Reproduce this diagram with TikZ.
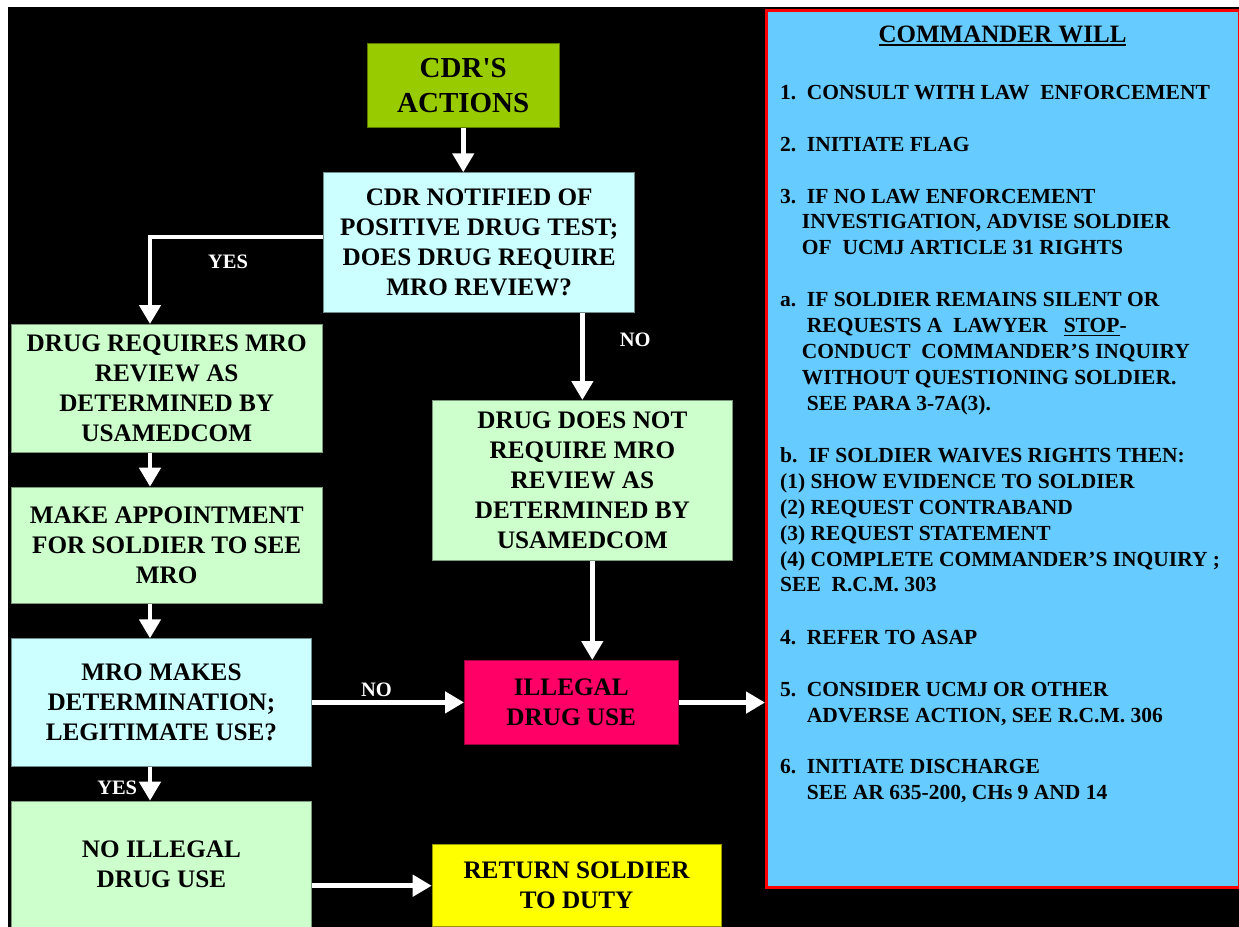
\documentclass[tikz,border=0pt]{standalone}
\usepackage{fontspec}
\setmainfont{Liberation Serif}
\usetikzlibrary{arrows.meta}
\definecolor{cact}{HTML}{99CC00}
\definecolor{ccyan}{HTML}{CCFFFF}
\definecolor{clgreen}{HTML}{CCFFCC}
\definecolor{cpink}{HTML}{FF0066}
\definecolor{cyel}{HTML}{FFFF00}
\definecolor{cpanel}{HTML}{66CCFF}
\definecolor{cred}{HTML}{FF0000}
\newcommand\myul[2][1.8pt]{\setbox0\hbox{#2}\rlap{\rule[-3.5pt]{\wd0}{#1}}\box0}
\tikzset{
  box/.style={rectangle, inner sep=0pt, anchor=north west, align=center,
    font=\fontsize{25.2}{30}\selectfont\bfseries, text=black, line width=0.8pt},
  cyanbox/.style={box, fill=ccyan, draw=ccyan!55!black},
  greenbox/.style={box, fill=clgreen, draw=clgreen!60!black},
  arr/.style={draw=white, line width=4.6pt, -{Triangle[width=21pt,length=19pt]}},
  lbl/.style={text=white, font=\fontsize{20.5}{24}\selectfont\bfseries, inner sep=0pt, anchor=base},
  ptxt/.style={anchor=base west, inner sep=0pt, text=black, font=\fontsize{21.5}{25.85}\selectfont\bfseries},
}
\begin{document}
\begin{tikzpicture}[x=1pt,y=-1pt]
\useasboundingbox (0,0) rectangle (1239,926);
\fill[white] (0,0) rectangle (1239,926);
\fill[black] (8,7) rectangle (1240,927);

% right panel
\node[rectangle, inner sep=0pt, anchor=north west, fill=cpanel, draw=cred, line width=3.4pt,
  minimum width=473pt, minimum height=877pt] (panel) at (765,9) {};

% flowchart boxes
\node[box, fill=cact, draw=cact!60!black, minimum width=192.3pt, minimum height=84.3pt,
  font=\fontsize{29}{35}\selectfont\bfseries] (actions) at (366.7,42.7) {CDR\textquotesingle S\\ACTIONS};
\node[cyanbox, minimum width=311pt, minimum height=139.4pt] (notified) at (323.3,172.3)
  {CDR NOTIFIED OF\\POSITIVE DRUG TEST;\\DOES DRUG REQUIRE\\MRO REVIEW?};
\node[greenbox, minimum width=310.7pt, minimum height=127.7pt] (req) at (11,324)
  {DRUG REQUIRES MRO\\REVIEW AS\\DETERMINED BY\\USAMEDCOM};
\node[greenbox, minimum width=310.7pt, minimum height=116.6pt] (appt) at (11,486.7)
  {MAKE APPOINTMENT\\FOR SOLDIER TO SEE\\MRO};
\node[cyanbox, minimum width=300pt, minimum height=127.4pt] (mro) at (11,638.3)
  {MRO MAKES\\DETERMINATION;\\LEGITIMATE USE?};
\node[greenbox, minimum width=300pt, minimum height=126pt] (noill) at (11,800.7)
  {NO ILLEGAL\\DRUG USE};
\node[greenbox, minimum width=300pt, minimum height=160pt] (notreq) at (432,400)
  {DRUG DOES NOT\\REQUIRE MRO\\REVIEW AS\\DETERMINED BY\\USAMEDCOM};
\node[box, fill=cpink, draw=cpink!60!black, minimum width=213.7pt, minimum height=84.3pt] (ill) at (464,660)
  {ILLEGAL\\DRUG USE};
\node[box, fill=cyel, draw=cyel!60!black, minimum width=289pt, minimum height=82pt] (ret) at (431.7,844.3)
  {RETURN SOLDIER\\TO DUTY};

% column coordinates
\coordinate (colL) at (150,0);
\coordinate (colM) at (592.3,0);

% connectors
\draw[arr] (actions.south) -- (actions.south |- notified.north);
\draw[arr] ([yshift=5.3pt]notified.west) -| (colL |- req.north);
\draw[arr] (notreq.north |- notified.south) -- (notreq.north);
\draw[arr] (colL |- req.south) -- (colL |- appt.north);
\draw[arr] (colL |- appt.south) -- (colL |- mro.north);
\draw[arr] (colL |- mro.south) -- (colL |- noill.north);
\draw[arr] (mro.east) -- (mro.east -| ill.west);
\draw[arr] (colM |- notreq.south) -- (colM |- ill.north);
\draw[arr] (ill.east) -- (ill.east -| panel.west);
\draw[arr] (noill.east |- ret.west) -- (ret.west);

% labels
\node[lbl] (yes1) at (228,268.3) {YES};
\node[lbl] (no1) at (635.3,346.7) {NO};
\node[lbl] (no2) at (376.5,696.7) {NO};
\node[lbl] (yes2) at (117.2,794.3) {YES};

% panel text
\node[anchor=base, inner sep=0pt, font=\fontsize{25}{30}\selectfont\bfseries] (title) at (1002.5,42.7) {\myul{COMMANDER WILL}};
\node[ptxt] (l1) at (780,99.3) {\makebox[26.7pt][l]{1.}CONSULT WITH LAW\ \ ENFORCEMENT};
\node[ptxt] (l2) at (780,151.7) {\makebox[26.7pt][l]{2.}INITIATE FLAG};
\node[ptxt] (l3) at (780,203.3) {\makebox[26.7pt][l]{3.}IF NO LAW ENFORCEMENT};
\node[ptxt] (l4) at (801.7,228.7) {INVESTIGATION, ADVISE SOLDIER};
\node[ptxt] (l5) at (801.7,254.3) {OF\ \ UCMJ ARTICLE 31 RIGHTS};
\node[ptxt] (l6) at (780,306.6) {\makebox[26.7pt][l]{a.}IF SOLDIER REMAINS SILENT OR};
\node[ptxt] (l7) at (806.7,332.5) {REQUESTS A\ \ LAWYER\ \ \ \myul[1.5pt]{STOP}-};
\node[ptxt] (l8) at (801.7,358.5) {CONDUCT\ \ COMMANDER’S INQUIRY};
\node[ptxt] (l9) at (801.7,384.3) {WITHOUT QUESTIONING SOLDIER.};
\node[ptxt] (l10) at (806.7,410) {SEE PARA 3-7A(3).};
\node[ptxt] (l11) at (780,462.2) {\makebox[28.3pt][l]{b.}IF SOLDIER WAIVES RIGHTS THEN:};
\node[ptxt] (l12) at (780,488.2) {(1) SHOW EVIDENCE TO SOLDIER};
\node[ptxt] (l13) at (780,514.2) {(2) REQUEST CONTRABAND};
\node[ptxt] (l14) at (780,540) {(3) REQUEST STATEMENT};
\node[ptxt] (l15) at (780,566) {(4) COMPLETE COMMANDER’S INQUIRY ;};
\node[ptxt] (l16) at (780,591.7) {SEE\ \ R.C.M. 303};
\node[ptxt] (l17) at (780,644) {\makebox[26.7pt][l]{4.}REFER TO ASAP};
\node[ptxt] (l18) at (780,696.7) {\makebox[26.7pt][l]{5.}CONSIDER UCMJ OR OTHER};
\node[ptxt] (l19) at (806.7,722.3) {ADVERSE ACTION, SEE R.C.M. 306};
\node[ptxt] (l20) at (780,773.3) {\makebox[26.7pt][l]{6.}INITIATE DISCHARGE};
\node[ptxt] (l21) at (806.7,799) {SEE AR 635-200, CHs 9 AND 14};
\end{tikzpicture}
\end{document}
